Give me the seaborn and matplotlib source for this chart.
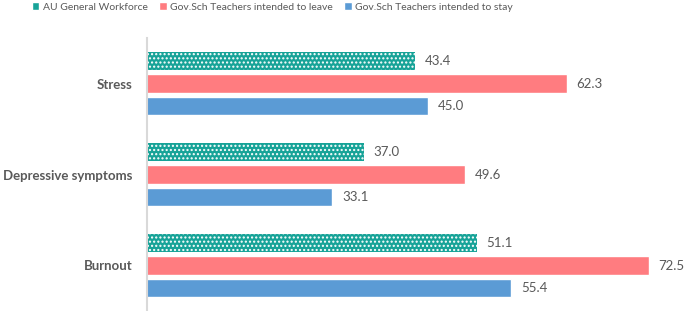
import pandas as pd
import seaborn as sns
import matplotlib.pyplot as plt

# Datos del grafico
categorias = ['Stress', 'Depressive symptoms', 'Burnout']
series = ['AU General Workforce', 'Gov.Sch Teachers intended to leave',
          'Gov.Sch Teachers intended to stay']
au_general = [43.4, 37.0, 51.1]
intended_leave = [62.3, 49.6, 72.5]
intended_stay = [45.0, 33.1, 55.4]

colores = ['#17A398', '#FF7C80', '#5B9BD5']

df = pd.DataFrame({
    'categoria': categorias * 3,
    'serie': [series[0]] * 3 + [series[1]] * 3 + [series[2]] * 3,
    'valor': au_general + intended_leave + intended_stay,
})

sns.set_style('white')
plt.rcParams['font.family'] = ['Lato', 'DejaVu Sans']
plt.rcParams['hatch.linewidth'] = 1.0

fig = plt.figure(figsize=(6.85, 3.11), dpi=100)
ax = fig.add_axes([146.7 / 685, 0, 1 - 146.7 / 685, (311 - 38) / 311])

sns.barplot(data=df, x='valor', y='categoria', hue='serie', orient='h',
            palette=colores, width=0.75, gap=0.19, ax=ax, saturation=1,
            order=categorias, hue_order=series)

# Patron de puntos en la primera serie
for barra in ax.containers[0]:
    barra.set_hatch('....')
    barra.set_edgecolor('white')
    barra.set_linewidth(0)

for cont in ax.containers:
    ax.bar_label(cont, fmt='%.1f', padding=7, fontsize=9.5, color='#595959')

ax.set_xlim(10, 77)
ax.set_ylim(2.5, -0.5)
ax.set_xlabel('')
ax.set_ylabel('')
ax.set_xticks([])
ax.tick_params(axis='y', length=0, pad=10)
for lbl in ax.get_yticklabels():
    lbl.set_fontweight('bold')
    lbl.set_fontsize(9.5)
    lbl.set_color('#595959')

for lado in ['top', 'right', 'bottom']:
    ax.spines[lado].set_visible(False)
ax.spines['left'].set_color('#D9D9D9')
ax.spines['left'].set_linewidth(1.5)

handles, labels = ax.get_legend_handles_labels()
ax.get_legend().remove()
fig.legend(handles, labels, loc='center left', bbox_to_anchor=(32 / 685, 1 - 7 / 311),
           ncol=3, frameon=False, fontsize=7.5, handlelength=0.7,
           handleheight=0.7, handletextpad=0.35, columnspacing=1.1,
           borderpad=0, borderaxespad=0, labelcolor='#595959')

fig.savefig('out.png', dpi=100)
